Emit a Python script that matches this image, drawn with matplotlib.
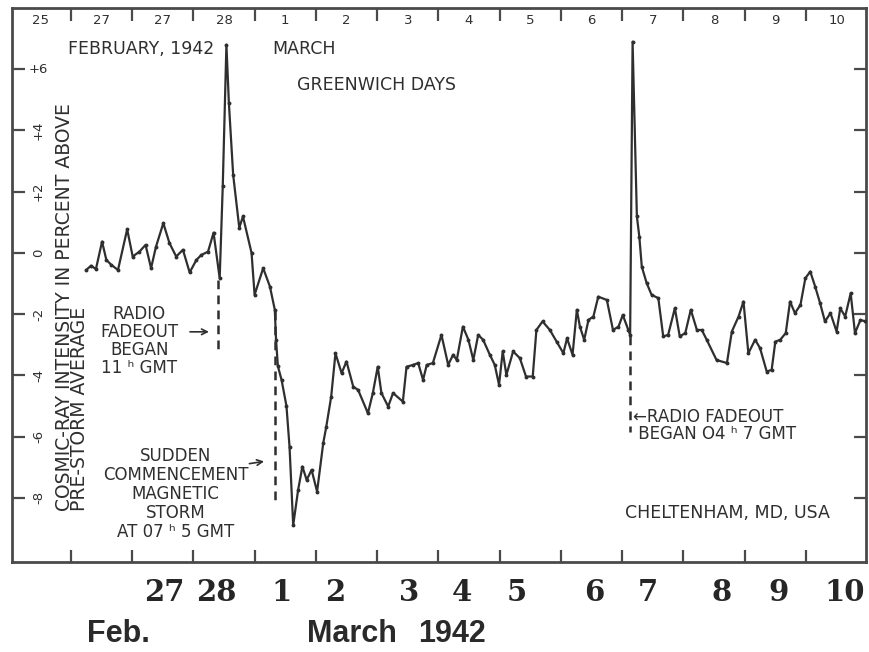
import matplotlib
matplotlib.use("Agg")
import matplotlib.pyplot as plt
import matplotlib.transforms as mtransforms

# ---------------- data (x = days since 1942-03-01 00h GMT) ----------------
days = [-2.75, -2.67, -2.59, -2.49, -2.42, -2.34, -2.23, -2.08, -1.99, -1.88,
        -1.78, -1.69, -1.61, -1.49, -1.39, -1.28, -1.17, -1.06, -0.95, -0.87,
        -0.76, -0.67, -0.57, -0.52, -0.46, -0.42, -0.35, -0.25, -0.19, -0.05,
        0.00, 0.14, 0.25, 0.33, 0.35, 0.38, 0.44, 0.52, 0.57, 0.63,
        0.71, 0.78, 0.85, 0.93, 1.02, 1.12, 1.17, 1.25, 1.32, 1.42,
        1.50, 1.61, 1.69, 1.85, 1.93, 2.01, 2.07, 2.18, 2.26, 2.42,
        2.48, 2.59, 2.67, 2.75, 2.81, 2.91, 3.05, 3.16, 3.24, 3.30,
        3.40, 3.49, 3.57, 3.65, 3.73, 3.84, 3.92, 3.99, 4.05, 4.11,
        4.22, 4.33, 4.43, 4.54, 4.60, 4.70, 4.82, 4.93, 5.04, 5.10,
        5.19, 5.26, 5.31, 5.38, 5.45, 5.53, 5.61, 5.75, 5.85, 5.94,
        6.01, 6.10, 6.13, 6.17, 6.24, 6.28, 6.32, 6.40, 6.48, 6.59,
        6.67, 6.75, 6.86, 6.94, 7.03, 7.12, 7.22, 7.30, 7.38, 7.54,
        7.71, 7.79, 7.90, 7.98, 8.06, 8.17, 8.25, 8.36, 8.44, 8.50,
        8.58, 8.67, 8.74, 8.82, 8.91, 8.99, 9.07, 9.15, 9.23, 9.31,
        9.40, 9.50, 9.56, 9.64, 9.73, 9.80, 9.89, 9.97]
intensity = [-0.56, -0.42, -0.53, 0.37, -0.23, -0.39, -0.56, 0.77, -0.12, 0.04,
             0.26, -0.50, 0.20, 0.97, 0.32, -0.12, 0.10, -0.64, -0.23, -0.07,
             0.04, 0.66, -0.83, 2.17, 6.80, 4.90, 2.55, 0.82, 1.19, 0.00,
             -1.37, -0.50, -1.10, -1.86, -2.84, -3.70, -4.15, -5.00, -6.33, -8.90,
             -7.75, -6.98, -7.42, -7.09, -7.80, -6.22, -5.68, -4.70, -3.28, -3.93,
             -3.55, -4.37, -4.48, -5.24, -4.58, -3.72, -4.58, -5.02, -4.58, -4.86,
             -3.72, -3.66, -3.60, -4.15, -3.66, -3.60, -2.68, -3.66, -3.33, -3.50,
             -2.41, -2.84, -3.50, -2.68, -2.84, -3.33, -3.66, -4.31, -3.22, -3.99,
             -3.22, -3.44, -4.04, -4.04, -2.52, -2.24, -2.52, -2.90, -3.28, -2.79,
             -3.33, -1.86, -2.41, -2.84, -2.19, -2.08, -1.43, -1.54, -2.52, -2.41,
             -2.03, -2.52, -2.68, 6.90, 1.19, 0.53, -0.45, -0.99, -1.37, -1.48,
             -2.73, -2.68, -1.81, -2.73, -2.62, -1.86, -2.52, -2.52, -2.84, -3.50,
             -3.60, -2.57, -2.08, -1.59, -3.28, -2.84, -3.11, -3.88, -3.82, -2.90,
             -2.84, -2.62, -1.59, -1.97, -1.70, -0.83, -0.61, -1.10, -1.64, -2.24,
             -1.97, -2.57, -1.81, -2.08, -1.32, -2.62, -2.19, -2.24]

# event markers: (day, top of dashed line, bottom of dashed line)
event_days = [-0.60, 0.335, 6.13]
event_top = [-0.9, -1.9, -2.7]
event_bottom = [-3.2, -8.1, -5.85]

top_day_labels = ["25", "27", "27", "28", "1", "2", "3", "4", "5", "6", "7", "8", "9", "10"]
top_day_starts = list(range(-4, 10))
bottom_day_labels = ["27", "28", "1", "2", "3", "4", "5", "6", "7", "8", "9", "10"]
bottom_label_pos = [-1.47, -0.62, 0.44, 1.31, 2.53, 3.38, 4.28, 5.54, 6.42, 7.62, 8.56, 9.64]
ytick_values = [-8, -6, -4, -2, 0, 2, 4, 6]
ytick_labels = ["-8", "-6", "-4", "-2", "0", "+2", "+4", "+6"]

INK = "#2f2f2f"
FONT = "DejaVu Sans"
FS = 12.5

fig = plt.figure(figsize=(8.69, 6.52), dpi=100)
ax = fig.add_axes([12 / 869, 90 / 652, 854 / 869, 554 / 652])
ax.set_xlim(-3.96, 9.98)
ax.set_ylim(-10.1, 8.0)

for s in ax.spines.values():
    s.set_color("#4a4a4a")
    s.set_linewidth(2.0)

ax.set_xticks(range(-3, 10))
ax.set_yticks(ytick_values)
ax.tick_params(axis="x", direction="in", length=9, width=1.6, color="#4a4a4a",
               top=True, bottom=True, labelbottom=False, labeltop=False)
ax.tick_params(axis="y", direction="in", length=9, width=1.6, color="#4a4a4a",
               left=True, right=True, labelleft=False, labelright=False)

# curve
ax.plot(days, intensity, color=INK, lw=1.6, marker="o", ms=1.8, zorder=3)

# dashed event lines
for d, t, b in zip(event_days, event_top, event_bottom):
    ax.plot([d, d], [t, b], color=INK, lw=1.8, ls=(0, (3.5, 2.5)), zorder=2)

# y tick labels inside the frame
ytr = mtransforms.blended_transform_factory(ax.transAxes, ax.transData)
for v, lab in zip(ytick_values, ytick_labels):
    rot = 0 if v == 6 else 90
    ax.text(0.031, v, lab, transform=ytr, ha="center", va="center",
            fontsize=9.5, rotation=rot, color=INK, family=FONT)

# top day labels inside the frame
xtr = mtransforms.blended_transform_factory(ax.transData, ax.transAxes)
for d0, lab in zip(top_day_starts, top_day_labels):
    ax.text(d0 + 0.5, 0.978, lab, transform=xtr, ha="center", va="center",
            fontsize=9.5, color=INK, family=FONT)

# header texts
ax.text(-3.05, 6.65, "FEBRUARY, 1942", ha="left", va="center", fontsize=FS,
        color=INK, family=FONT)
ax.text(0.29, 6.65, "MARCH", ha="left", va="center", fontsize=FS,
        color=INK, family=FONT)
ax.text(0.69, 5.5, "GREENWICH DAYS", ha="left", va="center", fontsize=FS,
        color=INK, family=FONT)

# y axis label (two rotated lines, starting from the bottom)
ax.text(-2.98, -8.45, "COSMIC-RAY INTENSITY IN PERCENT ABOVE\nPRE-STORM AVERAGE",
        rotation=90, ha="center", va="bottom", multialignment="left",
        linespacing=0.78, fontsize=13.5, color=INK, family=FONT)

# annotation: first radio fadeout
ax.text(-1.88, -2.87, "RADIO\nFADEOUT\nBEGAN\n11 \u02b0 GMT", ha="center", va="center",
        multialignment="center", linespacing=1.0, fontsize=FS - 0.5,
        color=INK, family=FONT)
ax.annotate("", xy=(-0.70, -2.58), xytext=(-1.10, -2.58),
            arrowprops=dict(arrowstyle="->", color=INK, lw=1.2))

# annotation: sudden commencement
ax.text(-1.29, -7.88, "SUDDEN\nCOMMENCEMENT\nMAGNETIC\nSTORM\nAT 07 \u02b0 5 GMT",
        ha="center", va="center", multialignment="center", linespacing=1.08,
        fontsize=FS - 0.5, color=INK, family=FONT)
ax.annotate("", xy=(0.2, -6.8), xytext=(-0.13, -6.9),
            arrowprops=dict(arrowstyle="->", color=INK, lw=1.2))

# annotation: second radio fadeout
ax.text(6.18, -5.65, "\u2190RADIO FADEOUT\n BEGAN O4 \u02b0 7 GMT", ha="left", va="center",
        multialignment="left", linespacing=0.95, fontsize=FS - 0.5,
        color=INK, family=FONT)

ax.text(6.05, -8.5, "CHELTENHAM, MD, USA", ha="left", va="center", fontsize=FS,
        color=INK, family=FONT)

# large day labels below the chart
btr = mtransforms.blended_transform_factory(ax.transData, fig.transFigure)
for p, lab in zip(bottom_label_pos, bottom_day_labels):
    ax.text(p, 0.092, lab, transform=btr, ha="center", va="center",
            fontsize=21, fontweight="bold", family="DejaVu Serif", color="#262626")

fig.text(0.136, 0.028, "Feb.", ha="center", va="center", fontsize=22,
         fontweight="bold", family="Liberation Sans", color="#2a2a2a")
fig.text(0.405, 0.028, "March", ha="center", va="center", fontsize=22,
         fontweight="bold", family="Liberation Sans", color="#2a2a2a")
fig.text(0.52, 0.028, "1942", ha="center", va="center", fontsize=22,
         fontweight="bold", family="Liberation Sans", color="#2a2a2a")

fig.savefig("out.png", dpi=100)
